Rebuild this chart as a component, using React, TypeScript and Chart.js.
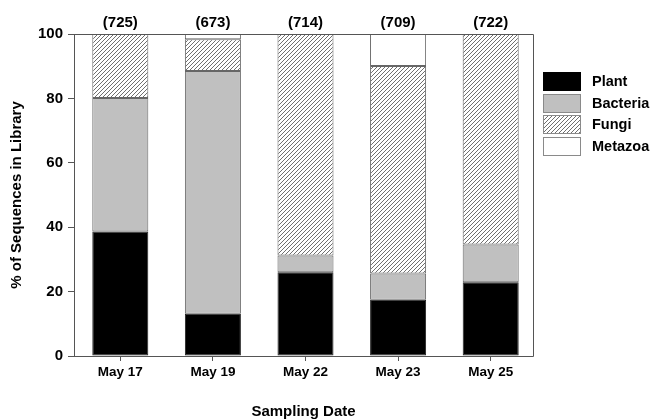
import React, { useEffect, useRef } from "react";
import { Chart, registerables } from "chart.js";

Chart.register(...registerables);

const categories = ["May 17", "May 19", "May 22", "May 23", "May 25"];
const libraryCounts = [725, 673, 714, 709, 722];
const plant = [38.7, 13.1, 26.0, 17.5, 22.9];
const bacteria = [41.4, 75.4, 5.2, 8.1, 11.7];
const fungi = [19.9, 9.9, 68.8, 64.5, 65.4];
const metazoa = [0, 1.6, 0, 9.9, 0];
const seriesNames = ["Plant", "Bacteria", "Fungi", "Metazoa"];
const yTicks = [0, 20, 40, 60, 80, 100];

const FONT = "'Liberation Sans', Arial, Helvetica, sans-serif";
const EDGE = "#555555";

function makeHatch(): CanvasPattern | string {
  const c = document.createElement("canvas");
  c.width = 4;
  c.height = 4;
  const g = c.getContext("2d");
  if (!g) return "#dddddd";
  g.fillStyle = "#ffffff";
  g.fillRect(0, 0, 4, 4);
  g.strokeStyle = "#6f6f6f";
  g.lineWidth = 1;
  g.beginPath();
  g.moveTo(0, 4);
  g.lineTo(4, 0);
  g.moveTo(-1, 1);
  g.lineTo(1, -1);
  g.moveTo(3, 5);
  g.lineTo(5, 3);
  g.stroke();
  const p = g.createPattern(c, "repeat");
  return p || "#dddddd";
}

export default function App() {
  const ref = useRef<HTMLCanvasElement | null>(null);

  useEffect(() => {
    document.body.style.margin = "0";
    const canvas = ref.current;
    if (!canvas) return;
    const hatch = makeHatch();
    const fills = ["#000000", "#c0c0c0", hatch, "#ffffff"];

    const decor = {
      id: "decor",
      afterDatasetsDraw(chart: any) {
        const ctx = chart.ctx;
        const a = chart.chartArea;
        const frameRight = a.right - 4;
        ctx.save();
        // frame
        ctx.strokeStyle = EDGE;
        ctx.lineWidth = 1;
        ctx.beginPath();
        ctx.moveTo(a.left + 0.5, a.top + 0.5);
        ctx.lineTo(frameRight + 0.5, a.top + 0.5);
        ctx.lineTo(frameRight + 0.5, a.bottom + 0.5);
        ctx.lineTo(a.left + 0.5, a.bottom + 0.5);
        ctx.stroke();
        // counts above bars
        ctx.fillStyle = "#000";
        ctx.font = `bold 15px ${FONT}`;
        ctx.textAlign = "center";
        ctx.textBaseline = "middle";
        const meta = chart.getDatasetMeta(0);
        meta.data.forEach((el: any, i: number) => {
          ctx.fillText(`(${libraryCounts[i]})`, el.x, a.top - 11);
        });
        // axis titles
        ctx.font = `bold 15px ${FONT}`;
        ctx.fillText("Sampling Date", (a.left + frameRight) / 2, 412);
        ctx.save();
        ctx.translate(17, (a.top + a.bottom) / 2);
        ctx.rotate(-Math.PI / 2);
        ctx.fillText("% of Sequences in Library", 0, 0);
        ctx.restore();
        // legend
        const bx = 543;
        const bw = 38;
        const bh = 19;
        const top0 = 72;
        const step = 21.5;
        ctx.font = `bold 14.5px ${FONT}`;
        ctx.textAlign = "left";
        seriesNames.forEach((name, i) => {
          const y = Math.round(top0 + i * step);
          ctx.fillStyle = fills[i] as any;
          ctx.fillRect(bx, y, bw, bh);
          ctx.strokeStyle = i === 0 ? "#000" : "#8a8a8a";
          ctx.strokeRect(bx + 0.5, y + 0.5, bw - 1, bh - 1);
          ctx.fillStyle = "#000";
          ctx.fillText(name, 592, y + bh / 2 + 0.5);
        });
        ctx.restore();
      },
    };

    const mk = (label: string, data: number[], i: number) => ({
      label,
      data,
      backgroundColor: fills[i],
      borderColor: i === 0 ? "#222" : "#666",
      borderWidth: 1,
      borderSkipped: false,
      barPercentage: 0.605,
      categoryPercentage: 1,
    });

    const chart = new Chart(canvas, {
      type: "bar",
      data: {
        labels: categories,
        datasets: [
          mk(seriesNames[0], plant, 0),
          mk(seriesNames[1], bacteria, 1),
          mk(seriesNames[2], fungi, 2),
          mk(seriesNames[3], metazoa, 3),
        ] as any,
      },
      options: {
        responsive: false,
        animation: false,
        layout: { padding: { top: 34, right: 117, left: 0, bottom: 0 } },
        plugins: {
          legend: { display: false },
          tooltip: { enabled: false },
          title: { display: false },
        },
        scales: {
          x: {
            stacked: true,
            afterFit(scale: any) {
              scale.height = 63;
            },
            grid: {
              offset: false,
              drawOnChartArea: false,
              drawTicks: true,
              tickLength: 5,
              color: EDGE,
            },
            border: { display: false },
            ticks: {
              color: "#000",
              padding: 3,
              font: { family: FONT, size: 13.5, weight: "bold" },
            },
          },
          y: {
            stacked: true,
            min: 0,
            max: 100,
            afterFit(scale: any) {
              scale.width = 74;
            },
            afterBuildTicks(scale: any) {
              scale.ticks = yTicks.map((v) => ({ value: v }));
            },
            grid: {
              drawOnChartArea: false,
              drawTicks: true,
              tickLength: 6,
              color: EDGE,
            },
            border: { display: true, color: EDGE },
            ticks: {
              color: "#000",
              padding: 5,
              font: { family: FONT, size: 15, weight: "bold" },
            },
          },
        },
      } as any,
      plugins: [decor],
    });

    return () => chart.destroy();
  }, []);

  return (
    <div style={{ width: 654, height: 419 }}>
      <canvas ref={ref} width={654} height={419} style={{ display: "block" }} />
    </div>
  );
}
